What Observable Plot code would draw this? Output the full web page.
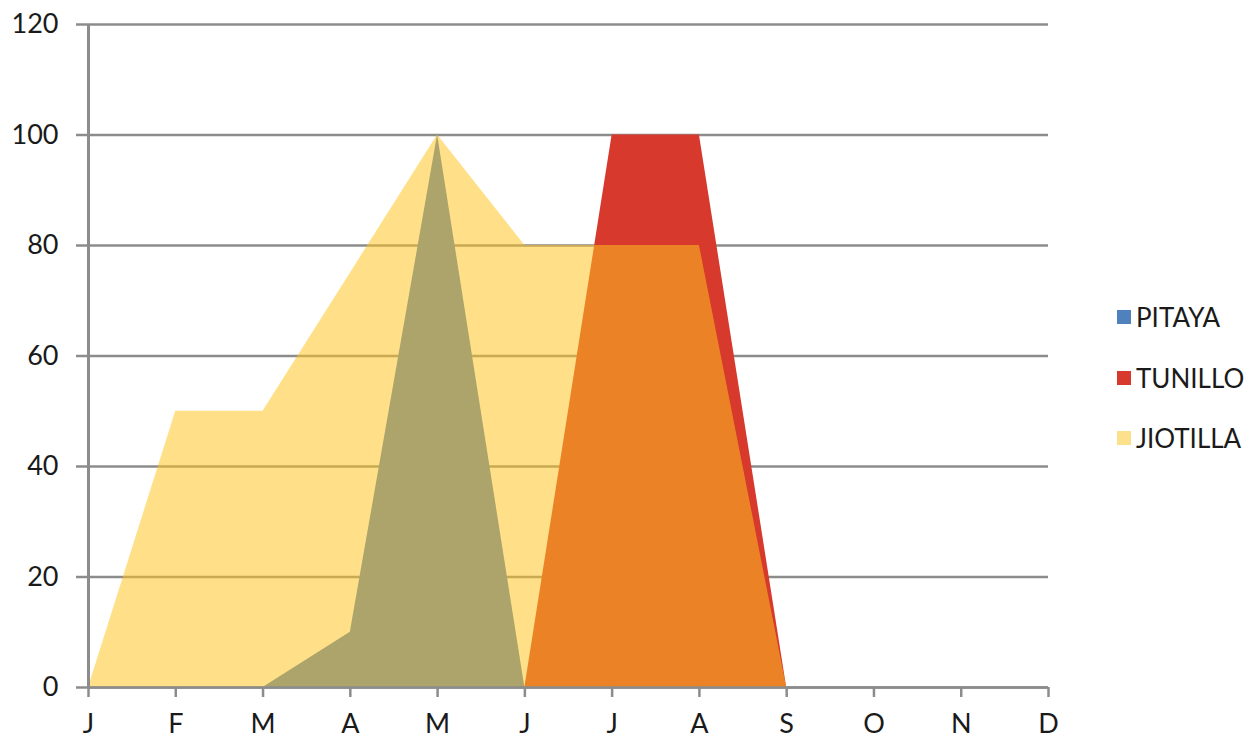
<!DOCTYPE html>
<html>
<head>
<meta charset="utf-8">
<script src="https://cdn.jsdelivr.net/npm/d3@7"></script>
<script src="https://cdn.jsdelivr.net/npm/@observablehq/plot@0.6"></script>
<style>
  html, body { margin: 0; padding: 0; background: #fff; }
  #wrap { position: relative; width: 1253px; height: 739px; font-family: Lato, "Noto Sans", sans-serif; }
  #legend { position: absolute; left: 1117px; top: 301px; }
  .item { display: flex; align-items: center; height: 32px; margin-bottom: 28.5px; font-size: 26px; color: #1a1a1a; }
  .sw { width: 14px; height: 14px; margin-right: 5px; }
</style>
</head>
<body>
<div id="wrap"><div id="chart"></div><div id="legend"></div></div>
<script>
const months = ["J","F","M","A","M","J","J","A","S","O","N","D"];
const pitaya   = [0, 0, 0, 10, 100, 0, 0, 0, 0, 0, 0, 0];
const tunillo  = [0, 0, 0, 0, 0, 0, 100, 100, 0, 0, 0, 0];
const jiotilla = [0, 50, 50, 75, 100, 80, 80, 80, 0, 0, 0, 0];
const yTicks = [0, 20, 40, 60, 80, 100, 120];

const seriesNames = ["PITAYA", "TUNILLO", "JIOTILLA"];
const seriesColors = ["#4F81BD", "#D7392D", "#FFC420"];
const seriesOpacity = [1, 1, 0.53];
const legendColors = ["#4F81BD", "#D7392D", "#FDE08C"];

const rows = months.map((m, i) => ({i, pitaya: pitaya[i], tunillo: tunillo[i], jiotilla: jiotilla[i]}));
const keys = ["pitaya", "tunillo", "jiotilla"];
const grid = "#8c8c8c";

const chart = Plot.plot({
  width: 1253,
  height: 739,
  marginLeft: 88,
  marginRight: 205,
  marginTop: 24,
  marginBottom: 52,
  style: {fontFamily: "Lato, 'Noto Sans', sans-serif", fontSize: "27px", color: "#1a1a1a", background: "#fff"},
  x: {domain: [0, 11], axis: null},
  y: {domain: [0, 120], axis: null},
  marks: [
    Plot.ruleY(yTicks, {stroke: grid, strokeWidth: 2.5}),
    ...keys.map((k, j) => Plot.areaY(rows, {x: "i", y: k, fill: seriesColors[j], fillOpacity: seriesOpacity[j], curve: "linear"})),
    Plot.ruleX([0], {stroke: grid, strokeWidth: 3}),
    Plot.ruleY([0], {stroke: grid, strokeWidth: 2.5}),
    Plot.axisY({ticks: yTicks, label: null, tickSize: 12, tickPadding: 18, stroke: grid, strokeWidth: 2.5, fill: "#1a1a1a"}),
    Plot.axisX({ticks: d3.range(12), label: null, tickFormat: i => months[i], tickSize: 10, tickPadding: 16, stroke: grid, strokeWidth: 2.5, fill: "#1a1a1a"})
  ]
});
document.getElementById("chart").appendChild(chart);

const legend = document.getElementById("legend");
seriesNames.forEach((n, j) => {
  const d = document.createElement("div");
  d.className = "item";
  d.innerHTML = `<span class="sw" style="background:${legendColors[j]}"></span><span>${n}</span>`;
  legend.appendChild(d);
});
</script>
</body>
</html>
